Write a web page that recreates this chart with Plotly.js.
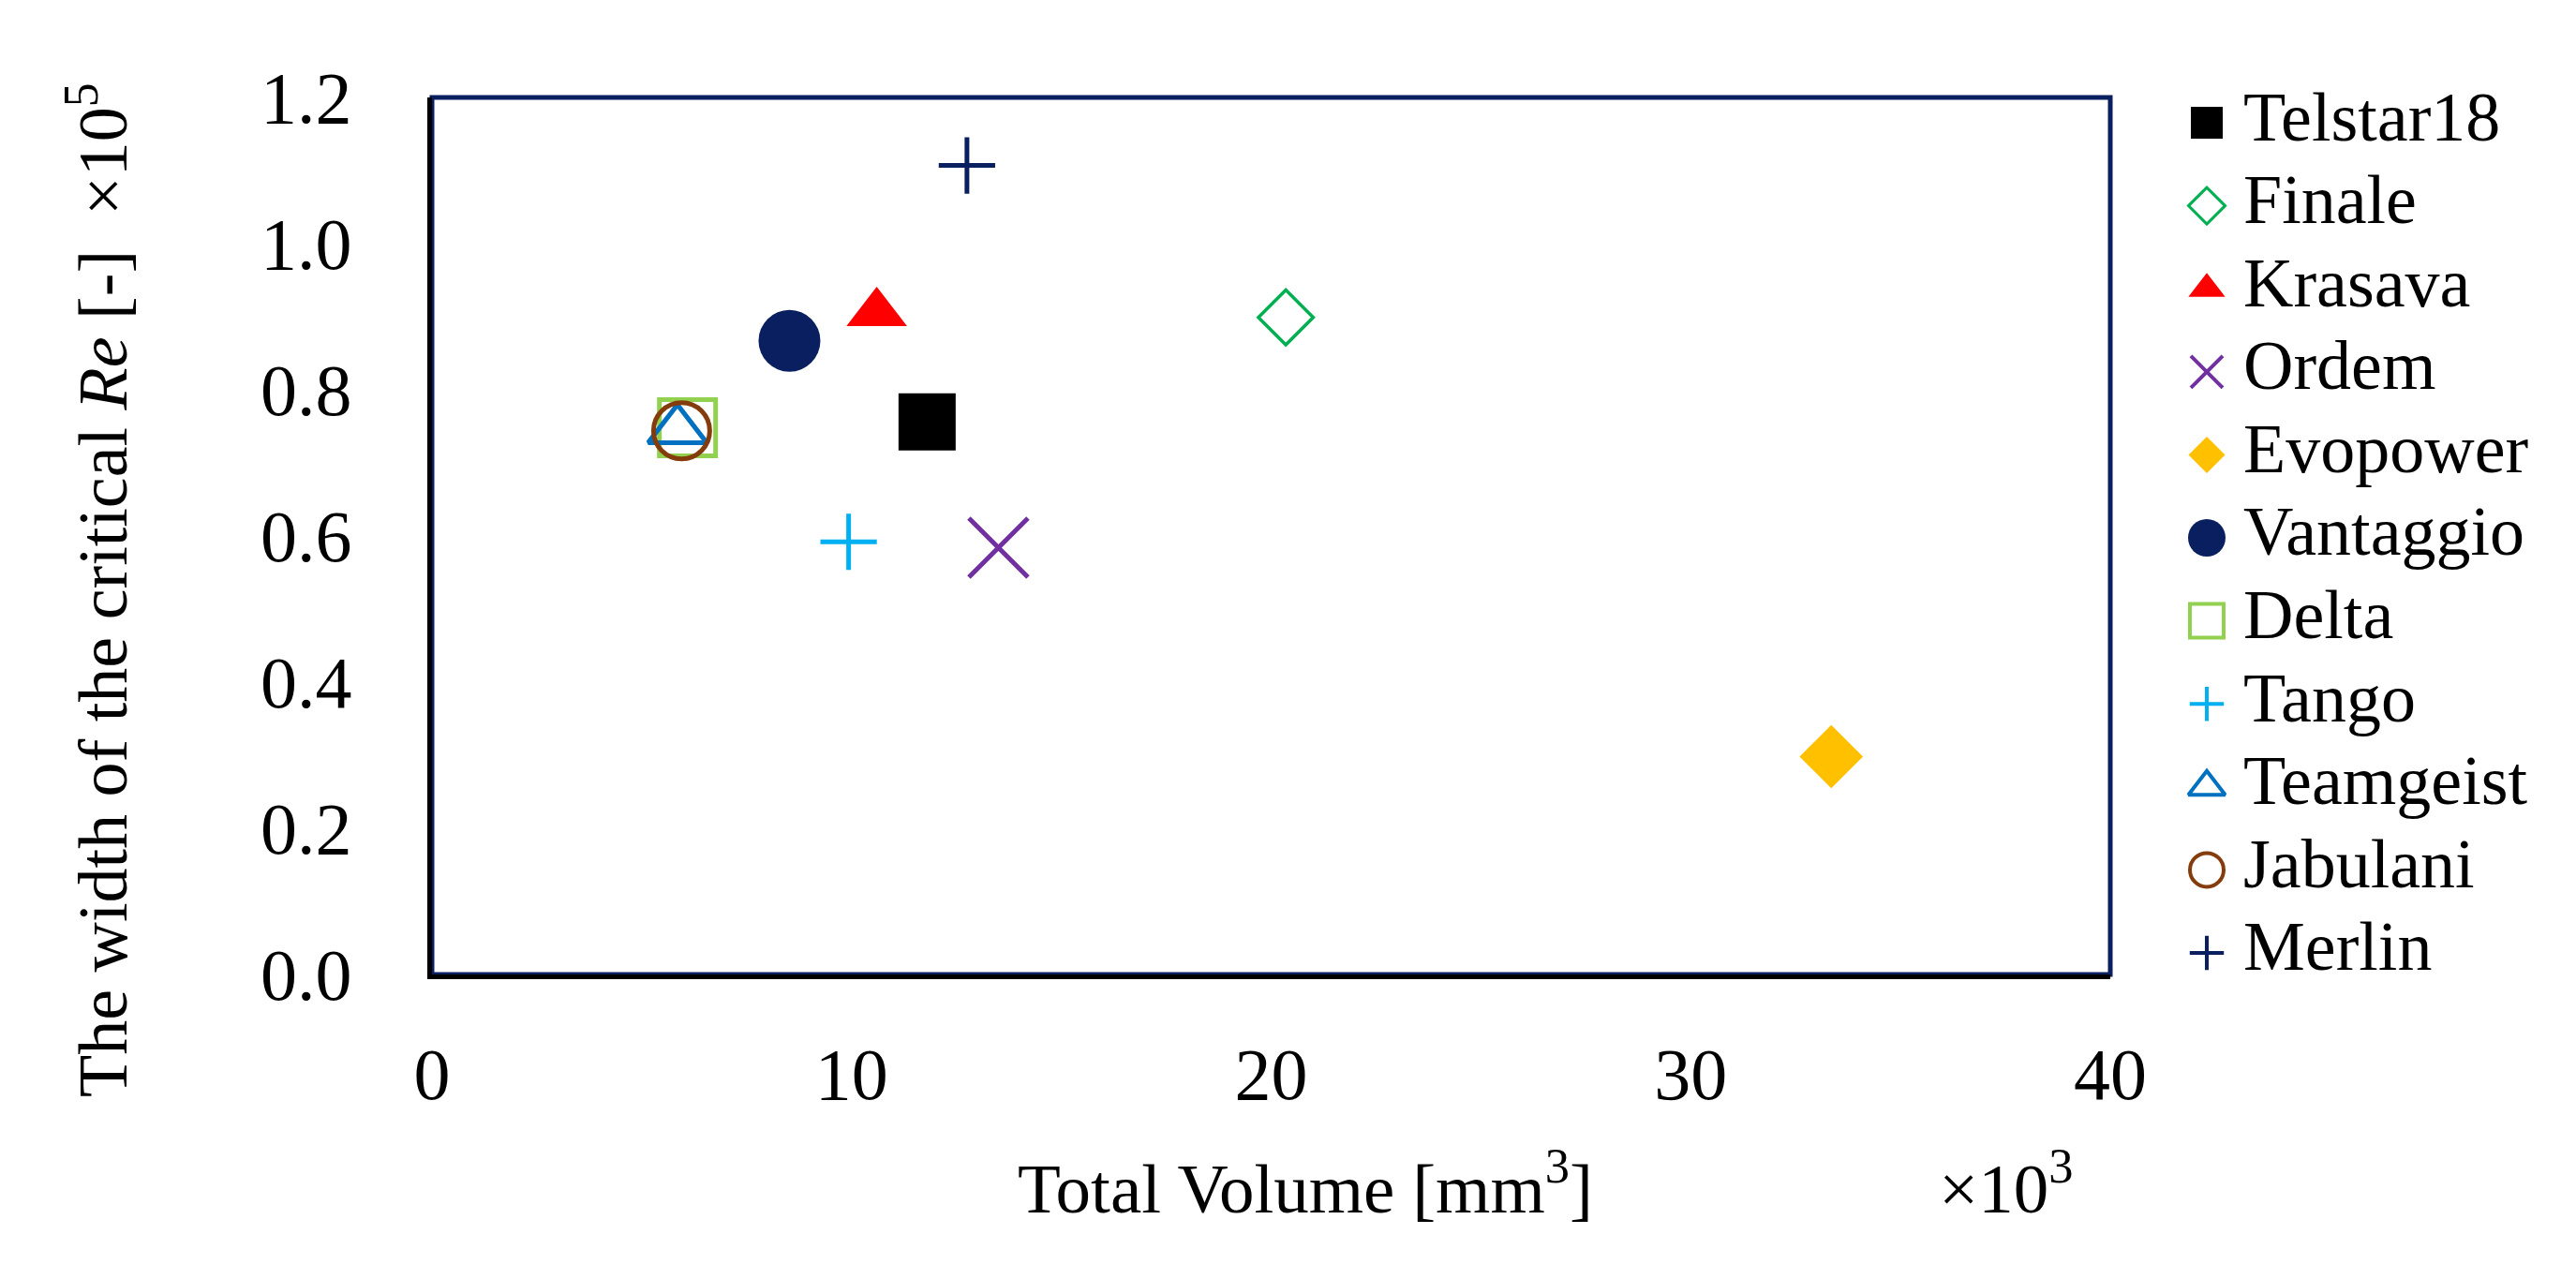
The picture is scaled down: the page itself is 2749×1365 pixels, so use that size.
<!DOCTYPE html>
<html>
<head>
<meta charset="utf-8">
<script src="https://cdn.plot.ly/plotly-3.0.1.min.js"></script>
<style>html,body{margin:0;padding:0;background:#fff;}</style>
</head>
<body>
<div id="chart" style="width:2749px;height:1365px;"></div>
<script>
// ---- data ----
const balls = ['Telstar18','Finale','Krasava','Ordem','Evopower','Vantaggio','Delta','Tango','Teamgeist','Jabulani','Merlin'];
const totalVolume = [11.8, 20.35, 10.6, 13.5, 33.35, 8.52, 6.09, 9.93, 5.85, 5.95, 12.75];   // ×10^3 mm^3
const criticalReWidth = [0.756, 0.899, 0.905, 0.584, 0.298, 0.867, 0.748, 0.592, 0.745, 0.744, 1.107]; // ×10^5
const xTicks = [0, 10, 20, 30, 40];
const yTicks = [0, 0.2, 0.4, 0.6, 0.8, 1.0, 1.2];

// ---- styles ----
const colors = ['#000000','#00B050','#FF0000','#7030A0','#FFC000','#0A1F5F','#92D050','#00B0F0','#0070C0','#843C0C','#0A1F5F'];
const symbols = ['square','diamond-open','triangle-up','x-thin','diamond','circle','square-open','cross-thin','triangle-up-open','circle-open','cross-thin'];
const sizes = [61, 45, 56, 63, 52, 66, 60, 43, 54, 60, 43];
const lineWidths = [0, 3.5, 0, 5, 0, 0, 5, 5, 5, 5, 5];
const legendSizes = [34, 30, 34, 34, 30, 40, 36, 26, 34, 36, 26];
const legendLineWidths = [0, 3, 0, 4, 0, 0, 4, 4, 4, 4, 4];

const FONT = 'Liberation Serif, Times New Roman, serif';
const W = 2749, H = 1365;
const plotL = 461, plotR = 2252, plotT = 104, plotB = 1040;

const traces = balls.map((name, i) => ({
  type: 'scatter', mode: 'markers', name: name,
  x: [totalVolume[i]], y: [criticalReWidth[i]],
  xaxis: 'x', yaxis: 'y', showlegend: false, hoverinfo: 'name+x+y',
  marker: { symbol: symbols[i], size: sizes[i], color: colors[i], opacity: 1,
            line: { color: colors[i], width: lineWidths[i] } }
}));

// custom legend (rows indexed by category order)
const rowIndex = balls.map((_, i) => i);
traces.push({
  type: 'scatter', mode: 'markers', xaxis: 'x2', yaxis: 'y2', showlegend: false, hoverinfo: 'skip',
  x: balls.map(() => 0), y: rowIndex,
  marker: { symbol: symbols, size: legendSizes, color: colors, opacity: 1,
            line: { color: colors, width: legendLineWidths } }
});
traces.push({
  type: 'scatter', mode: 'text', xaxis: 'x2', yaxis: 'y2', showlegend: false, hoverinfo: 'skip',
  x: balls.map(() => 39), y: rowIndex, text: balls,
  textposition: 'middle right',
  textfont: { family: FONT, size: 74, color: '#000' }
});

const layout = {
  width: W, height: H,
  margin: { l: 0, r: 0, t: 0, b: 0, pad: 0 },
  paper_bgcolor: '#fff', plot_bgcolor: '#fff',
  showlegend: false,
  font: { family: FONT, color: '#000' },
  xaxis: {
    domain: [plotL / W, plotR / W], anchor: 'y',
    range: [0, 40], tickvals: xTicks, ticktext: xTicks.map(String),
    showgrid: false, zeroline: false,
    showline: true, linecolor: '#000', linewidth: 5,
    ticks: 'outside', ticklen: 34, tickcolor: 'rgba(0,0,0,0)',
    tickfont: { family: FONT, size: 78, color: '#000' }
  },
  yaxis: {
    domain: [(H - plotB) / H, (H - plotT) / H], anchor: 'x',
    range: [0, 1.2], tickvals: yTicks, ticktext: yTicks.map(v => v.toFixed(1)),
    showgrid: false, zeroline: false,
    showline: true, linecolor: '#000', linewidth: 5,
    ticks: 'outside', ticklen: 65, tickcolor: 'rgba(0,0,0,0)',
    tickfont: { family: FONT, size: 78, color: '#000' }
  },
  xaxis2: {
    domain: [2300 / W, 1], anchor: 'y2', range: [-55, 394],
    visible: false, showgrid: false, zeroline: false, fixedrange: true
  },
  yaxis2: {
    domain: [(H - 1061.3) / H, (H - 86.7) / H], anchor: 'x2', range: [10.5, -0.5],
    visible: false, showgrid: false, zeroline: false, fixedrange: true
  },
  shapes: [{
    type: 'rect', xref: 'x domain', yref: 'y domain', x0: 0, x1: 1, y0: 0, y1: 1,
    line: { color: '#0A1F5F', width: 5 }, fillcolor: 'rgba(0,0,0,0)', layer: 'below'
  }],
  annotations: [
    {
      xref: 'paper', yref: 'paper', x: 104 / W, y: (H - 630) / H,
      xanchor: 'center', yanchor: 'middle', showarrow: false, textangle: -90,
      text: 'The width of the critical <i>Re</i> [-]\u00a0\u00a0×10<sup>5</sup>',
      font: { family: FONT, size: 74, color: '#000' }
    },
    {
      xref: 'paper', yref: 'paper', x: 1393 / W, y: (H - 1262) / H,
      xanchor: 'center', yanchor: 'middle', showarrow: false,
      text: 'Total Volume [mm<sup>3</sup>]',
      font: { family: FONT, size: 75, color: '#000' }
    },
    {
      xref: 'paper', yref: 'paper', x: 2141 / W, y: (H - 1262) / H,
      xanchor: 'center', yanchor: 'middle', showarrow: false,
      text: '×10<sup>3</sup>',
      font: { family: FONT, size: 75, color: '#000' }
    }
  ]
};

Plotly.newPlot('chart', traces, layout, { displayModeBar: false, staticPlot: true });
</script>
</body>
</html>
